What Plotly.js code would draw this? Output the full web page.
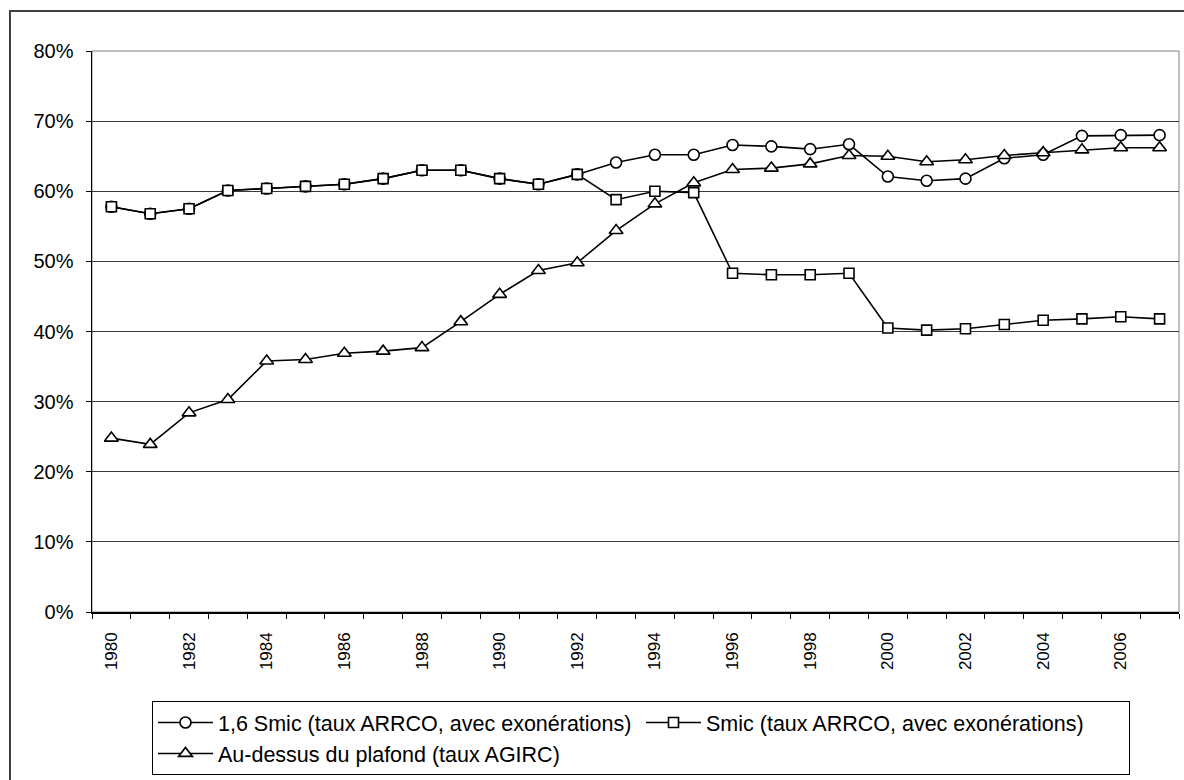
<!DOCTYPE html>
<html>
<head>
<meta charset="utf-8">
<script src="https://cdn.plot.ly/plotly-3.0.1.min.js"></script>
<style>
  html, body { margin: 0; padding: 0; background: #fff; }
  #chart { width: 1184px; height: 780px; }
</style>
</head>
<body>
<div id="chart"></div>
<script>
const years = [1980,1981,1982,1983,1984,1985,1986,1987,1988,1989,1990,1991,1992,1993,
               1994,1995,1996,1997,1998,1999,2000,2001,2002,2003,2004,2005,2006,2007];

const smic16 = [0.578,0.568,0.575,0.601,0.604,0.607,0.610,0.618,0.630,0.630,0.618,0.610,0.624,0.641,
                0.652,0.652,0.666,0.664,0.660,0.667,0.621,0.615,0.618,0.647,0.652,0.679,0.680,0.680];

const smic = [0.578,0.568,0.575,0.601,0.604,0.607,0.610,0.618,0.630,0.630,0.618,0.610,0.624,0.588,
              0.600,0.598,0.483,0.481,0.481,0.483,0.405,0.402,0.404,0.410,0.416,0.418,0.421,0.418];

const agirc = [0.248,0.239,0.284,0.303,0.358,0.360,0.369,0.372,0.377,0.414,0.453,0.487,0.498,0.544,
               0.582,0.612,0.631,0.633,0.639,0.651,0.650,0.642,0.645,0.651,0.655,0.659,0.662,0.662];

const seriesNames = [
  "1,6 Smic (taux ARRCO, avec exonérations)",
  "Smic (taux ARRCO, avec exonérations)",
  "Au-dessus du plafond (taux AGIRC)"
];

const FONT = "Arial, 'Liberation Sans', sans-serif";

function mk(y, name, symbol, size) {
  return {
    x: years, y: y, name: name, type: "scatter", mode: "lines+markers",
    line: { color: "#000", width: 1.6 },
    marker: { symbol: symbol, size: size, color: "#fff", line: { color: "#000", width: 1.6 } },
    cliponaxis: false
  };
}

const traces = [
  mk(smic16, seriesNames[0], "circle", 11),
  mk(smic, seriesNames[1], "square", 10),
  mk(agirc, seriesNames[2], "triangle-up", 12)
];

const L = 92, R = 1179, T = 51, B = 612;
const W = R - L, H = B - T;
function px(x) { return (x - L) / W; }
function py(y) { return (B - y) / H; }

const layout = {
  width: 1184, height: 780,
  margin: { l: L, r: 1184 - R, t: T, b: 780 - B, pad: 0 },
  paper_bgcolor: "#fff", plot_bgcolor: "#fff",
  font: { family: FONT, color: "#000" },
  showlegend: true,
  xaxis: {
    range: [1979.5, 2007.5],
    tickmode: "linear", tick0: 1980, dtick: 2,
    ticks: "", tickangle: -90,
    ticklabelstandoff: 12,
    tickfont: { size: 17, family: FONT, color: "#000" },
    showgrid: false, zeroline: false,
    showline: true, linecolor: "#000", linewidth: 1.5,
    minor: { tickmode: "linear", tick0: 1979.5, dtick: 1, ticks: "outside", ticklen: 5, tickcolor: "#000", tickwidth: 1, showgrid: false },
    fixedrange: true
  },
  yaxis: {
    range: [0, 0.8], tickmode: "linear", tick0: 0, dtick: 0.1,
    tickformat: ".0%",
    ticks: "outside", ticklen: 5, tickcolor: "#000",
    ticklabelstandoff: 8,
    tickfont: { size: 20, family: FONT, color: "#000" },
    showgrid: true, gridcolor: "#3a3a3a", gridwidth: 1,
    zeroline: false,
    showline: true, linecolor: "#000", linewidth: 1.5,
    fixedrange: true
  },
  legend: {
    orientation: "h",
    x: px(152), xanchor: "left",
    y: py(701), yanchor: "top",
    bgcolor: "#fff", bordercolor: "#000", borderwidth: 1,
    font: { size: 21.5, family: FONT, color: "#000" },
    itemwidth: 55,
    entrywidth: 418, entrywidthmode: "pixels",
    traceorder: "normal",
    itemclick: false, itemdoubleclick: false
  },
  shapes: [
    { type: "rect", xref: "paper", yref: "paper", x0: 0, x1: 1, y0: 0, y1: 1,
      line: { color: "#808080", width: 1 }, layer: "below" },
    { type: "rect", xref: "paper", yref: "paper",
      x0: px(10), x1: px(1200), y0: py(11), y1: py(800),
      line: { color: "#404040", width: 2 }, fillcolor: "rgba(0,0,0,0)", layer: "below" }
  ]
};

Plotly.newPlot("chart", traces, layout, { displayModeBar: false, staticPlot: true });
</script>
</body>
</html>
